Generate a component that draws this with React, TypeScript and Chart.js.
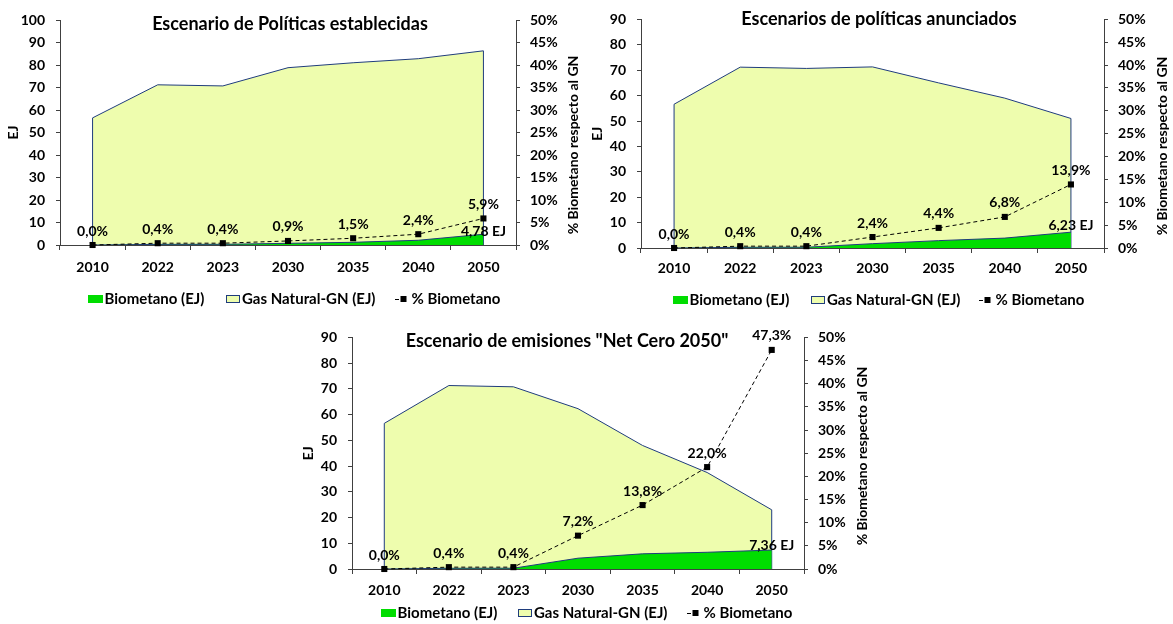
import React, { useEffect, useRef } from "react";
import { Chart, registerables } from "chart.js";

Chart.register(...registerables);

// Years shown on the category axis
const years = ["2010", "2022", "2023", "2030", "2035", "2040", "2050"];

// Escenario de Políticas establecidas
const gasStated = [56.5, 71.2, 70.7, 78.8, 81.0, 82.8, 86.3];
const bioStated = [0, 0.28, 0.3, 0.75, 1.2, 2.1, 4.78];
const pctStated = [0.0, 0.4, 0.4, 0.9, 1.5, 2.4, 5.9];

// Escenarios de políticas anunciados
const gasAnnounced = [56.6, 71.2, 70.7, 71.3, 65.0, 59.0, 51.0];
const bioAnnounced = [0, 0.28, 0.3, 1.7, 2.9, 3.9, 6.23];
const pctAnnounced = [0.0, 0.4, 0.4, 2.4, 4.4, 6.8, 13.9];

// Escenario de emisiones "Net Cero 2050"
const gasNetZero = [56.6, 71.3, 70.8, 62.3, 48.0, 37.5, 23.0];
const bioNetZero = [0, 0.28, 0.3, 4.2, 5.9, 6.5, 7.36];
const pctNetZero = [0.0, 0.4, 0.4, 7.2, 13.8, 22.0, 47.3];

// Axis ranges
const ejMaxStated = 100;
const ejMaxOther = 90;
const pctMax = 50;

// Legend / axis texts
const bioName = "Biometano (EJ)";
const gasName = "Gas Natural-GN (EJ)";
const pctName = "% Biometano";
const leftTitle = "EJ";
const rightTitle = "% Biometano respecto al GN";

const FONT = "Lato";
const GAS_FILL = "#EEFDAE";
const BIO_FILL = "#00DD00";
const NAVY = "#1F3C7C";
const AXIS = "#404040";

type Layout = {
  box: { left: number; top: number; width: number; height: number };
  area: { left: number; right: number; top: number; bottom: number };
  titleX: number;
  titleY: number;
  ejX: number;
  rightX: number;
  rightY: number;
  xPad: number;
  bioDy: number;
  legend: { y: number; bioX: number; gasX: number; lineX: number };
};

type Panel = {
  title: string;
  gas: number[];
  bio: number[];
  pct: number[];
  ejMax: number;
  layout: Layout;
};

const panels: Panel[] = [
  {
    title: "Escenario de Políticas establecidas",
    gas: gasStated,
    bio: bioStated,
    pct: pctStated,
    ejMax: ejMaxStated,
    layout: {
      box: { left: 0, top: 0, width: 580, height: 310 },
      area: { left: 60, right: 516, top: 20, bottom: 245 },
      titleX: 290,
      titleY: 24,
      ejX: 13,
      rightX: 573,
      rightY: 145,
      xPad: 9,
      bioDy: 3,
      legend: { y: 299, bioX: 88, gasX: 226, lineX: 395 },
    },
  },
  {
    title: "Escenarios de políticas anunciados",
    gas: gasAnnounced,
    bio: bioAnnounced,
    pct: pctAnnounced,
    ejMax: ejMaxOther,
    layout: {
      box: { left: 580, top: 0, width: 593, height: 310 },
      area: { left: 61, right: 524, top: 13, bottom: 248 },
      titleX: 299,
      titleY: 19,
      ejX: 17,
      rightX: 582,
      rightY: 146,
      xPad: 7,
      bioDy: 7,
      legend: { y: 300, bioX: 93, gasX: 231, lineX: 399 },
    },
  },
  {
    title: 'Escenario de emisiones "Net Cero 2050"',
    gas: gasNetZero,
    bio: bioNetZero,
    pct: pctNetZero,
    ejMax: ejMaxOther,
    layout: {
      box: { left: 290, top: 318, width: 590, height: 306 },
      area: { left: 62, right: 514, top: 16, bottom: 251 },
      titleX: 277,
      titleY: 23,
      ejX: 18,
      rightX: 572,
      rightY: 138,
      xPad: 8,
      bioDy: 5,
      legend: { y: 295, bioX: 91, gasX: 228, lineX: 397 },
    },
  },
];

const comma = (v: number, d: number) => v.toFixed(d).replace(".", ",");

function makeDecor(p: Panel) {
  const L = p.layout;
  return {
    id: "decor",
    // Outline the vertical ends of the gas area, as the fill polygon border
    afterDatasetDraw(chart: any, args: any) {
      if (args.index !== 0) return;
      const ctx = chart.ctx;
      const pts = args.meta.data;
      const y0 = chart.scales.y.getPixelForValue(0);
      ctx.save();
      ctx.strokeStyle = NAVY;
      ctx.lineWidth = 1;
      [pts[0], pts[pts.length - 1]].forEach((pt: any) => {
        ctx.beginPath();
        ctx.moveTo(pt.x, y0);
        ctx.lineTo(pt.x, pt.y);
        ctx.stroke();
      });
      ctx.restore();
    },
    afterDraw(chart: any) {
      const ctx = chart.ctx;
      ctx.save();
      ctx.fillStyle = "#000";
      ctx.textBaseline = "middle";

      // Chart title
      ctx.textAlign = "center";
      ctx.font = `bold 18px ${FONT}`;
      ctx.fillText(p.title, L.titleX, L.titleY);

      // Axis titles
      ctx.font = `bold 14px ${FONT}`;
      const midY = (chart.chartArea.top + chart.chartArea.bottom) / 2;
      ctx.save();
      ctx.translate(L.ejX, midY);
      ctx.rotate(-Math.PI / 2);
      ctx.fillText(leftTitle, 0, 0);
      ctx.restore();
      ctx.save();
      ctx.translate(L.rightX, L.rightY);
      ctx.rotate(-Math.PI / 2);
      ctx.fillText(rightTitle, 0, 0);
      ctx.restore();

      // Percentage labels above the markers
      const pctMeta = chart.getDatasetMeta(2);
      pctMeta.data.forEach((pt: any, i: number) => {
        ctx.fillText(comma(p.pct[i], 1) + "%", pt.x, pt.y - 14);
      });

      // Biomethane value at the last year
      const bioMeta = chart.getDatasetMeta(1);
      const last = bioMeta.data.length - 1;
      const bp = bioMeta.data[last];
      ctx.fillText(comma(p.bio[last], 2) + " EJ", bp.x, bp.y - L.bioDy);

      // Legend
      const lg = L.legend;
      ctx.font = `bold 15px ${FONT}`;
      ctx.textAlign = "left";
      ctx.fillStyle = BIO_FILL;
      ctx.fillRect(lg.bioX, lg.y - 4, 15, 8);
      ctx.fillStyle = "#000";
      ctx.fillText(bioName, lg.bioX + 16.5, lg.y);

      ctx.fillStyle = GAS_FILL;
      ctx.fillRect(lg.gasX, lg.y - 4, 14, 8);
      ctx.strokeStyle = NAVY;
      ctx.lineWidth = 1;
      ctx.strokeRect(lg.gasX + 0.5, lg.y - 3.5, 13, 7);
      ctx.fillStyle = "#000";
      ctx.fillText(gasName, lg.gasX + 16, lg.y);

      ctx.strokeStyle = "#000";
      ctx.beginPath();
      ctx.moveTo(lg.lineX, lg.y + 0.5);
      ctx.lineTo(lg.lineX + 4, lg.y + 0.5);
      ctx.stroke();
      ctx.fillRect(lg.lineX + 5.5, lg.y - 3, 6, 6);
      ctx.fillText(pctName, lg.lineX + 16.5, lg.y);

      ctx.restore();
    },
  };
}

function ChartPanel({ panel }: { panel: Panel }) {
  const ref = useRef<HTMLCanvasElement>(null);
  useEffect(() => {
    const L = panel.layout;
    const tickFont = { family: FONT, size: 14, weight: "bold" as const };
    const chart = new Chart(ref.current as HTMLCanvasElement, {
      type: "line",
      data: {
        labels: years,
        datasets: [
          {
            label: gasName,
            data: panel.gas,
            yAxisID: "y",
            fill: "origin",
            backgroundColor: GAS_FILL,
            borderColor: NAVY,
            borderWidth: 1,
            pointRadius: 0,
            tension: 0,
            order: 3,
          },
          {
            label: bioName,
            data: panel.bio,
            yAxisID: "y",
            fill: "origin",
            backgroundColor: BIO_FILL,
            borderColor: NAVY,
            borderWidth: 1,
            pointRadius: 0,
            tension: 0,
            order: 2,
          },
          {
            label: pctName,
            data: panel.pct,
            yAxisID: "y1",
            fill: false,
            borderColor: "#000",
            borderWidth: 1,
            borderDash: [4, 3],
            pointStyle: "rect",
            pointRadius: 4.3,
            pointBackgroundColor: "#000",
            pointBorderWidth: 0,
            tension: 0,
            clip: false,
            order: 1,
          } as any,
        ],
      },
      options: {
        responsive: false,
        animation: false,
        events: [],
        layout: { padding: { top: L.area.top, left: 0, right: 0, bottom: 0 } },
        plugins: {
          legend: { display: false },
          title: { display: false },
          tooltip: { enabled: false },
        },
        scales: {
          x: {
            type: "category",
            offset: true,
            grid: {
              offset: true,
              drawOnChartArea: false,
              tickLength: 5,
              color: AXIS,
              tickColor: AXIS,
            },
            border: { color: AXIS, width: 1 },
            ticks: {
              font: tickFont,
              color: "#000",
              padding: L.xPad,
              maxRotation: 0,
              autoSkip: false,
            },
            afterFit: (s: any) => {
              s.height = L.box.height - L.area.bottom;
            },
          },
          y: {
            position: "left",
            min: 0,
            max: panel.ejMax,
            grid: {
              drawOnChartArea: false,
              tickLength: 4,
              color: AXIS,
              tickColor: AXIS,
            },
            border: { color: AXIS, width: 1 },
            ticks: { stepSize: 10, font: tickFont, color: "#000", padding: 11 },
            afterFit: (s: any) => {
              s.width = L.area.left;
            },
          },
          y1: {
            position: "right",
            min: 0,
            max: pctMax,
            grid: {
              drawOnChartArea: false,
              tickLength: 4,
              color: AXIS,
              tickColor: AXIS,
            },
            border: { color: AXIS, width: 1 },
            ticks: {
              stepSize: 5,
              font: tickFont,
              color: "#000",
              padding: 10,
              callback: (v: any) => v + "%",
            },
            afterFit: (s: any) => {
              s.width = L.box.width - L.area.right;
            },
          },
        },
      },
      plugins: [makeDecor(panel)],
    } as any);
    return () => chart.destroy();
  }, [panel]);

  const b = panel.layout.box;
  return (
    <canvas
      ref={ref}
      width={b.width}
      height={b.height}
      style={{ position: "absolute", left: b.left, top: b.top, width: b.width, height: b.height }}
    />
  );
}

export default function App() {
  return (
    <div style={{ position: "absolute", left: 0, top: 0, width: 1173, height: 624, background: "#fff" }}>
      {panels.map((p) => (
        <ChartPanel key={p.title} panel={p} />
      ))}
    </div>
  );
}
